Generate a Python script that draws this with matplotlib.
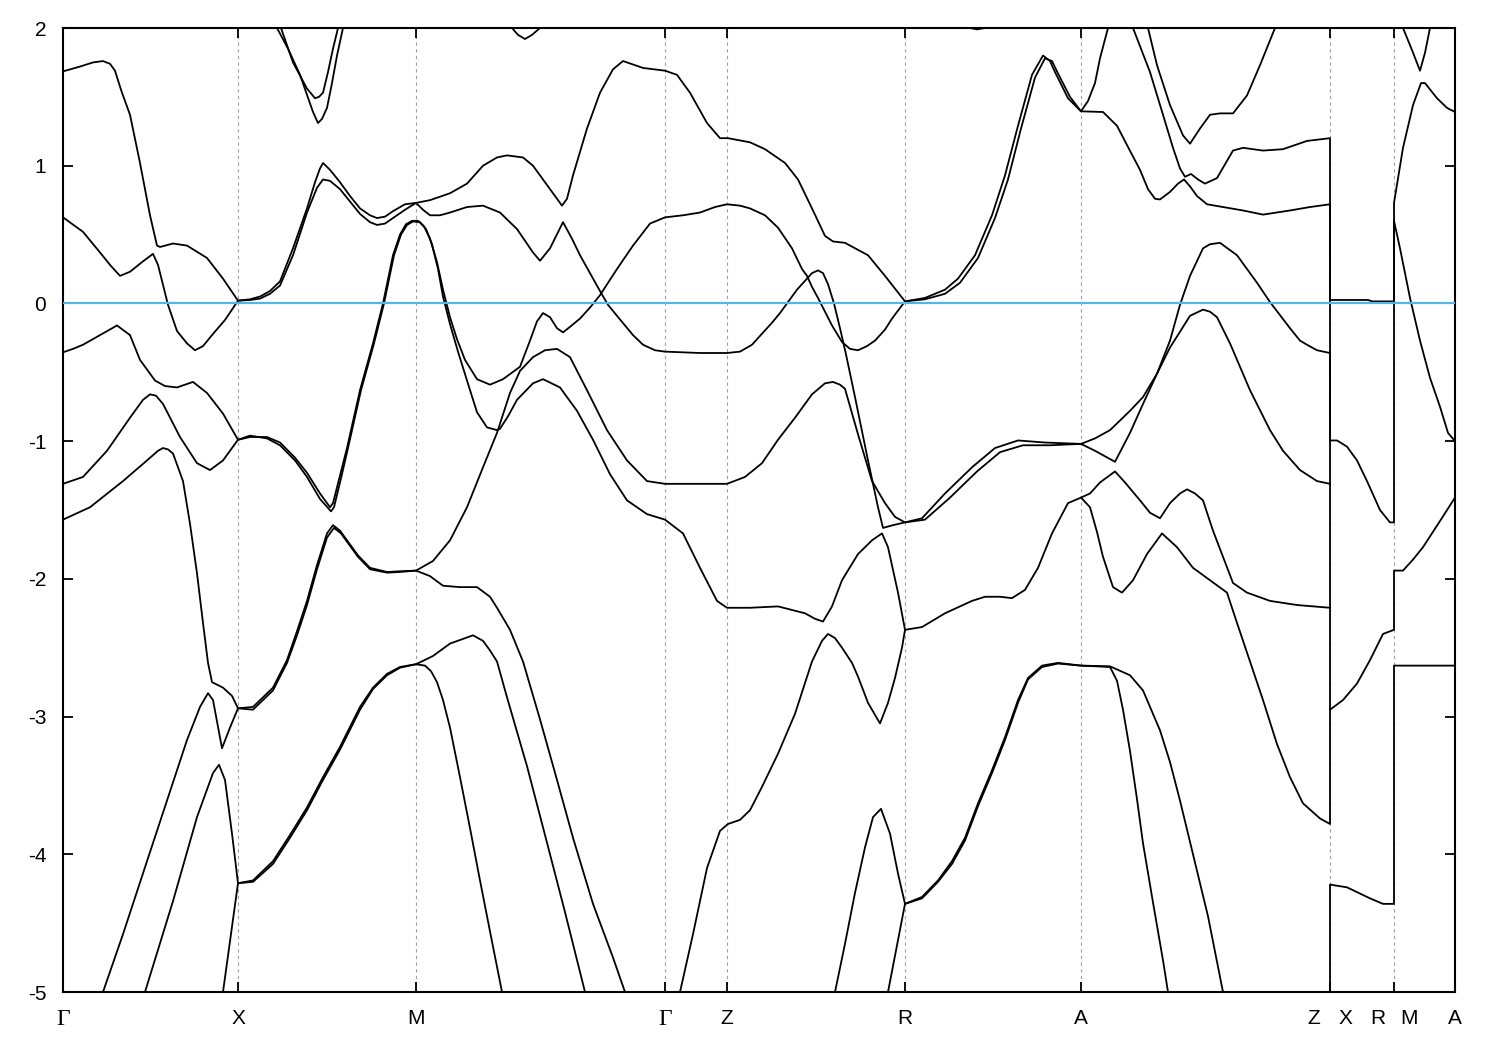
import matplotlib
matplotlib.use("Agg")
import matplotlib.pyplot as plt
from matplotlib.transforms import blended_transform_factory

plt.rcParams['font.family'] = ['Liberation Sans', 'DejaVu Sans']
plt.rcParams['axes.unicode_minus'] = False

# high-symmetry points along the k-path (path length units)
kpoint_pos = [0.00, 1.75, 3.53, 6.02, 6.64, 8.42, 10.18, 12.67, 13.31, 13.92]
kpoint_lab = ['Γ', 'X', 'M', 'Γ', 'Z', 'R', 'A', 'Z|X', 'R|M', 'A']
yticks = [-5, -4, -3, -2, -1, 0, 1, 2]

# bands: (k, E) pairs
band_1 = [(0.00, 1.685), (0.17, 1.72), (0.30, 1.75), (0.40, 1.76), (0.47, 1.74), (0.52, 1.69), (0.55, 1.62),
          (0.59, 1.53), (0.67, 1.37),
          (0.77, 1.02), (0.87, 0.64), (0.94, 0.42), (0.97, 0.41), (1.10, 0.435), (1.24, 0.42), (1.44, 0.33),
          (1.60, 0.18), (1.75, 0.02),
          (1.87, 0.03), (1.97, 0.05), (2.07, 0.09), (2.17, 0.16), (2.30, 0.40), (2.44, 0.69), (2.52, 0.88),
          (2.57, 0.98), (2.60, 1.02), (2.67, 0.97), (2.77, 0.88), (2.87, 0.78), (2.97, 0.69), (3.07, 0.64),
          (3.14, 0.62), (3.22, 0.63), (3.30, 0.67), (3.42, 0.72), (3.53, 0.73),
          (3.67, 0.75), (3.87, 0.80), (4.04, 0.87), (4.20, 1.00), (4.34, 1.06), (4.44, 1.075), (4.60, 1.06),
          (4.70, 1.00), (4.80, 0.90), (4.90, 0.80), (4.99, 0.71), (5.04, 0.76), (5.10, 0.93), (5.17, 1.10),
          (5.24, 1.27), (5.37, 1.53), (5.50, 1.70), (5.60, 1.76), (5.80, 1.71), (6.02, 1.69),
          (6.14, 1.66), (6.27, 1.53), (6.44, 1.31), (6.57, 1.20), (6.65, 1.20), (6.87, 1.17), (7.02, 1.12),
          (7.22, 1.02), (7.35, 0.90), (7.49, 0.69), (7.62, 0.49), (7.70, 0.45), (7.82, 0.44), (8.05, 0.35),
          (8.22, 0.20), (8.42, 0.015),
          (8.62, 0.04), (8.82, 0.10), (8.95, 0.18), (9.12, 0.35), (9.29, 0.64), (9.42, 0.93), (9.55, 1.29),
          (9.69, 1.66), (9.80, 1.80), (9.87, 1.76), (9.92, 1.68), (10.05, 1.49), (10.18, 1.395),
          (10.25, 1.47), (10.32, 1.60), (10.37, 1.78), (10.45, 2.00), (10.48, 2.10)]

band_2 = [(0.00, 0.625), (0.20, 0.52), (0.37, 0.37), (0.47, 0.28), (0.57, 0.20), (0.67, 0.23), (0.79, 0.30),
          (0.90, 0.36), (0.95, 0.28), (1.05, -0.01), (1.14, -0.20), (1.24, -0.29), (1.32, -0.34), (1.40, -0.31),
          (1.49, -0.23), (1.62, -0.12), (1.75, 0.02),
          (1.87, 0.025), (1.97, 0.035), (2.07, 0.07), (2.17, 0.13), (2.30, 0.35), (2.44, 0.66), (2.54, 0.84),
          (2.60, 0.90), (2.67, 0.89), (2.77, 0.83), (2.87, 0.74), (2.97, 0.65), (3.07, 0.59), (3.14, 0.57),
          (3.22, 0.58), (3.30, 0.62), (3.42, 0.68), (3.53, 0.73),
          (3.60, 0.68), (3.67, 0.64), (3.77, 0.64), (3.87, 0.66), (4.04, 0.70), (4.20, 0.71), (4.37, 0.66),
          (4.54, 0.54), (4.70, 0.37), (4.77, 0.31), (4.87, 0.40), (5.00, 0.59), (5.09, 0.47), (5.17, 0.35),
          (5.27, 0.22), (5.37, 0.09), (5.45, -0.01), (5.54, -0.09), (5.70, -0.23), (5.80, -0.30), (5.92, -0.34),
          (6.02, -0.35),
          (6.37, -0.36), (6.64, -0.36), (6.77, -0.35), (6.89, -0.30), (6.99, -0.22), (7.09, -0.14),
          (7.17, -0.07), (7.25, 0.01), (7.34, 0.10), (7.44, 0.18), (7.49, 0.22), (7.55, 0.24), (7.60, 0.22),
          (7.65, 0.14), (7.71, 0.00), (7.77, -0.18), (7.83, -0.37), (7.92, -0.68), (8.05, -1.14), (8.15, -1.48),
          (8.20, -1.63), (8.30, -1.61), (8.42, -1.59),
          (8.59, -1.56), (8.82, -1.38), (9.09, -1.19), (9.32, -1.05), (9.55, -0.995), (9.82, -1.01),
          (10.18, -1.02),
          (10.32, -1.07), (10.52, -1.15), (10.67, -0.94), (10.80, -0.73), (10.94, -0.51), (11.07, -0.27),
          (11.17, -0.01), (11.27, 0.20), (11.40, 0.40), (11.47, 0.43), (11.57, 0.44), (11.74, 0.35),
          (11.94, 0.15), (12.07, 0.01), (12.27, -0.18), (12.37, -0.27), (12.44, -0.30), (12.54, -0.34),
          (12.67, -0.36), (12.67, -1.31)]

band_3 = [(0.00, -0.355), (0.10, -0.33), (0.20, -0.30), (0.37, -0.23), (0.54, -0.16), (0.67, -0.23),
          (0.77, -0.41), (0.92, -0.56), (1.02, -0.60), (1.14, -0.61), (1.30, -0.57), (1.44, -0.65),
          (1.60, -0.80), (1.75, -0.99),
          (1.87, -0.97), (2.04, -0.97), (2.17, -1.01), (2.32, -1.12), (2.44, -1.23), (2.57, -1.38),
          (2.67, -1.48), (2.70, -1.45), (2.77, -1.25), (2.84, -1.05), (2.97, -0.63), (3.10, -0.29),
          (3.20, 0.00), (3.30, 0.35), (3.37, 0.50), (3.43, 0.575), (3.49, 0.60), (3.55, 0.60),
          (3.61, 0.56), (3.67, 0.47), (3.74, 0.30), (3.80, 0.10), (3.87, -0.10), (3.94, -0.26), (4.02, -0.41),
          (4.14, -0.55), (4.27, -0.59), (4.40, -0.55), (4.57, -0.46), (4.67, -0.27), (4.74, -0.13),
          (4.80, -0.07), (4.87, -0.10), (4.94, -0.18), (5.00, -0.21), (5.07, -0.17), (5.17, -0.11),
          (5.27, -0.03), (5.37, 0.06), (5.45, 0.15), (5.54, 0.25), (5.70, 0.42), (5.87, 0.58), (6.02, 0.625),
          (6.20, 0.64), (6.37, 0.66), (6.52, 0.70), (6.64, 0.72), (6.77, 0.71), (6.87, 0.69), (7.02, 0.64),
          (7.15, 0.55), (7.29, 0.40), (7.39, 0.25), (7.44, 0.20), (7.49, 0.12), (7.55, 0.04), (7.62, -0.06),
          (7.69, -0.16), (7.79, -0.28), (7.87, -0.33), (7.95, -0.34), (8.04, -0.31), (8.12, -0.27),
          (8.22, -0.19), (8.29, -0.11), (8.42, 0.015),
          (8.62, 0.03), (8.82, 0.07), (8.97, 0.15), (9.15, 0.33), (9.32, 0.62), (9.45, 0.90), (9.58, 1.27),
          (9.72, 1.64), (9.82, 1.78), (9.89, 1.76), (9.95, 1.67), (10.07, 1.50), (10.18, 1.395),
          (10.40, 1.39), (10.54, 1.29), (10.64, 1.15), (10.77, 0.97), (10.85, 0.83), (10.92, 0.76),
          (10.97, 0.755), (11.07, 0.81), (11.15, 0.87), (11.21, 0.90), (11.27, 0.85), (11.34, 0.78),
          (11.44, 0.72), (11.60, 0.70), (11.80, 0.675), (12.00, 0.645), (12.27, 0.675), (12.47, 0.70),
          (12.67, 0.72),
          (12.67, -0.995), (12.74, -0.995), (12.84, -1.04), (12.94, -1.14), (13.04, -1.29), (13.17, -1.50),
          (13.27, -1.59), (13.31, -1.59),
          (13.31, 0.60), (13.37, 0.40), (13.47, 0.04), (13.57, -0.27), (13.67, -0.54), (13.77, -0.75),
          (13.85, -0.94), (13.92, -1.00)]

band_4 = [(0.00, -1.31), (0.20, -1.26), (0.44, -1.07), (0.67, -0.83), (0.80, -0.70), (0.87, -0.66),
          (0.93, -0.67), (1.00, -0.73),
          (1.17, -0.97), (1.34, -1.16), (1.47, -1.21), (1.60, -1.14), (1.75, -0.99),
          (1.87, -0.96), (2.04, -0.98), (2.17, -1.03), (2.32, -1.14), (2.44, -1.26), (2.57, -1.42),
          (2.68, -1.51), (2.71, -1.48), (2.78, -1.27), (2.85, -1.05), (2.98, -0.63), (3.11, -0.29),
          (3.21, 0.00), (3.31, 0.35), (3.38, 0.50), (3.44, 0.57), (3.50, 0.595), (3.57, 0.59),
          (3.63, 0.54), (3.69, 0.43), (3.75, 0.25), (3.80, 0.05), (3.87, -0.15), (3.95, -0.35), (4.04, -0.56),
          (4.14, -0.79), (4.24, -0.90), (4.34, -0.92), (4.37, -0.91), (4.45, -0.82), (4.54, -0.70),
          (4.70, -0.58), (4.80, -0.55), (4.97, -0.61), (5.14, -0.78), (5.30, -0.99), (5.47, -1.24),
          (5.64, -1.43), (5.84, -1.53), (6.02, -1.57),
          (6.20, -1.67), (6.37, -1.92), (6.54, -2.16), (6.64, -2.21), (6.87, -2.21), (7.15, -2.20),
          (7.42, -2.25), (7.52, -2.29), (7.60, -2.31), (7.69, -2.20), (7.79, -2.01), (7.95, -1.82),
          (8.09, -1.72), (8.19, -1.67), (8.25, -1.77), (8.35, -2.10), (8.42, -2.37),
          (8.59, -2.35), (8.82, -2.25), (9.09, -2.16), (9.22, -2.13), (9.37, -2.13), (9.49, -2.14),
          (9.62, -2.08), (9.75, -1.92), (9.89, -1.67), (10.05, -1.45), (10.18, -1.41),
          (10.27, -1.38), (10.37, -1.30), (10.52, -1.22), (10.62, -1.30), (10.77, -1.43), (10.87, -1.52),
          (10.97, -1.56), (11.07, -1.45), (11.17, -1.38), (11.24, -1.35), (11.32, -1.38), (11.40, -1.43),
          (11.50, -1.65), (11.60, -1.84), (11.70, -2.03), (11.84, -2.10), (12.07, -2.16), (12.34, -2.19),
          (12.67, -2.21)]

band_5 = [(0.00, -1.57), (0.27, -1.48), (0.60, -1.29), (0.84, -1.14), (0.95, -1.07), (1.00, -1.05),
          (1.05, -1.06), (1.10, -1.09),
          (1.20, -1.29), (1.27, -1.60), (1.34, -1.96), (1.40, -2.32), (1.45, -2.61), (1.49, -2.75),
          (1.60, -2.79), (1.69, -2.85), (1.75, -2.94),
          (1.90, -2.93), (2.10, -2.79), (2.24, -2.59), (2.34, -2.38), (2.44, -2.16), (2.54, -1.90),
          (2.64, -1.67), (2.70, -1.61), (2.77, -1.65), (2.84, -1.72), (2.95, -1.83), (3.07, -1.92),
          (3.24, -1.95), (3.37, -1.945), (3.53, -1.94),
          (3.70, -1.87), (3.87, -1.72), (4.04, -1.48), (4.20, -1.19), (4.34, -0.94), (4.47, -0.65),
          (4.57, -0.49), (4.70, -0.39), (4.82, -0.34), (4.94, -0.33), (5.07, -0.39), (5.24, -0.63),
          (5.44, -0.92), (5.64, -1.14), (5.84, -1.29), (6.02, -1.31),
          (6.37, -1.31), (6.64, -1.31), (6.82, -1.26), (6.99, -1.16), (7.15, -0.99), (7.32, -0.83),
          (7.49, -0.66), (7.62, -0.58), (7.70, -0.57), (7.77, -0.59), (7.82, -0.62), (7.95, -0.95),
          (8.09, -1.29), (8.22, -1.45), (8.32, -1.55), (8.42, -1.59),
          (8.62, -1.57), (8.87, -1.41), (9.14, -1.22), (9.37, -1.08), (9.60, -1.03), (9.87, -1.03),
          (10.18, -1.02),
          (10.32, -0.98), (10.47, -0.92), (10.67, -0.78), (10.80, -0.68), (10.94, -0.51), (11.07, -0.32),
          (11.14, -0.24), (11.27, -0.09), (11.40, -0.045), (11.47, -0.06), (11.54, -0.10), (11.67, -0.29),
          (11.87, -0.63), (12.07, -0.92), (12.20, -1.07), (12.37, -1.21), (12.54, -1.29), (12.67, -1.31),
          (12.67, -2.95), (12.80, -2.88), (12.94, -2.76), (13.07, -2.59), (13.20, -2.40), (13.31, -2.37),
          (13.31, -1.94), (13.40, -1.94), (13.50, -1.86), (13.60, -1.77), (13.77, -1.58), (13.92, -1.41)]

band_6 = [(0.33, -5.15), (0.40, -5.00), (0.60, -4.58), (0.84, -4.05), (1.04, -3.61), (1.24, -3.17),
          (1.37, -2.93), (1.45, -2.83), (1.50, -2.88), (1.59, -3.23), (1.67, -3.08), (1.75, -2.94),
          (1.90, -2.95), (2.10, -2.81), (2.24, -2.61), (2.34, -2.41), (2.44, -2.19), (2.54, -1.93),
          (2.64, -1.70), (2.71, -1.63), (2.78, -1.67), (2.85, -1.74), (2.95, -1.84), (3.07, -1.93),
          (3.24, -1.955), (3.37, -1.95), (3.53, -1.94),
          (3.67, -1.98), (3.80, -2.05), (3.97, -2.06), (4.14, -2.06), (4.27, -2.13), (4.34, -2.21),
          (4.47, -2.37), (4.60, -2.60), (4.77, -3.02), (4.94, -3.46), (5.10, -3.88), (5.30, -4.36),
          (5.50, -4.75), (5.62, -5.00), (5.67, -5.10)]

band_7 = [(0.76, -5.14), (0.82, -5.00), (1.10, -4.34), (1.34, -3.73), (1.50, -3.41), (1.56, -3.35),
          (1.62, -3.46), (1.69, -3.85), (1.75, -4.21),
          (1.90, -4.19), (2.10, -4.05), (2.27, -3.86), (2.44, -3.66), (2.60, -3.44), (2.77, -3.22),
          (2.97, -2.93), (3.10, -2.79), (3.24, -2.69), (3.37, -2.64), (3.53, -2.62),
          (3.70, -2.56), (3.87, -2.47), (4.10, -2.41), (4.20, -2.45), (4.27, -2.52), (4.34, -2.60),
          (4.44, -2.86), (4.64, -3.36), (4.82, -3.86), (5.02, -4.42), (5.22, -5.00), (5.25, -5.10)]

band_8 = [(1.57, -5.16), (1.60, -5.00), (1.75, -4.21),
          (1.90, -4.20), (2.10, -4.07), (2.27, -3.88), (2.44, -3.68), (2.60, -3.46), (2.77, -3.24),
          (2.97, -2.95), (3.10, -2.80), (3.24, -2.70), (3.37, -2.645), (3.53, -2.62),
          (3.62, -2.63), (3.68, -2.67), (3.74, -2.75), (3.80, -2.88), (3.87, -3.08), (3.97, -3.44),
          (4.07, -3.81), (4.17, -4.19), (4.27, -4.56), (4.39, -5.00), (4.41, -5.10)]

band_9 = [(6.15, -5.10), (6.17, -5.00), (6.30, -4.58), (6.44, -4.10), (6.57, -3.83), (6.65, -3.78),
          (6.77, -3.75), (6.87, -3.68), (6.99, -3.51), (7.15, -3.27), (7.32, -2.98), (7.49, -2.60),
          (7.59, -2.45), (7.65, -2.40), (7.72, -2.43), (7.79, -2.50), (7.89, -2.61), (7.95, -2.71),
          (8.05, -2.90), (8.17, -3.05), (8.25, -2.90), (8.32, -2.72), (8.39, -2.50), (8.42, -2.37)]

band_10 = [(7.70, -5.10), (7.72, -5.00), (7.82, -4.65), (7.92, -4.28), (8.02, -3.95), (8.10, -3.73),
           (8.18, -3.67), (8.27, -3.85), (8.35, -4.14), (8.42, -4.36),
           (8.59, -4.31), (8.75, -4.19), (8.89, -4.05), (9.02, -3.88), (9.15, -3.63), (9.29, -3.39),
           (9.42, -3.15), (9.55, -2.88), (9.65, -2.72), (9.79, -2.63), (9.95, -2.61), (10.18, -2.63),
           (10.47, -2.64), (10.54, -2.74), (10.60, -2.95), (10.67, -3.25), (10.74, -3.60), (10.80, -3.92),
           (10.90, -4.35), (11.00, -4.77), (11.05, -5.00), (11.07, -5.10)]

band_11 = [(8.23, -5.10), (8.25, -5.00), (8.42, -4.36),
           (8.59, -4.32), (8.75, -4.20), (8.89, -4.07), (9.02, -3.90), (9.15, -3.65), (9.29, -3.41),
           (9.42, -3.17), (9.55, -2.90), (9.65, -2.73), (9.79, -2.64), (9.95, -2.615), (10.18, -2.63),
           (10.47, -2.635), (10.67, -2.70), (10.80, -2.81), (10.97, -3.10), (11.07, -3.33), (11.17, -3.61),
           (11.30, -4.00), (11.45, -4.45), (11.60, -5.00), (11.63, -5.10)]

band_12 = [(10.68, 2.10), (10.70, 2.00), (10.87, 1.68), (11.00, 1.37), (11.10, 1.13), (11.17, 0.98),
           (11.22, 0.92), (11.28, 0.94), (11.35, 0.90), (11.42, 0.87), (11.54, 0.91), (11.62, 1.01),
           (11.70, 1.11), (11.80, 1.13), (12.00, 1.11), (12.20, 1.12), (12.44, 1.18), (12.67, 1.20),
           (12.67, 0.025), (13.05, 0.025), (13.09, 0.015), (13.31, 0.015),
           (13.31, 0.73), (13.40, 1.13), (13.50, 1.44), (13.58, 1.60), (13.62, 1.60), (13.74, 1.49),
           (13.84, 1.42), (13.92, 1.39)]

band_13 = [(10.82, 2.10), (10.85, 2.00), (10.94, 1.73), (11.07, 1.44), (11.20, 1.22), (11.27, 1.16),
           (11.37, 1.27), (11.47, 1.37), (11.57, 1.38), (11.70, 1.38), (11.84, 1.51), (11.97, 1.73),
           (12.12, 2.00), (12.15, 2.10)]

band_14 = [(10.18, -1.41), (10.27, -1.48), (10.34, -1.66), (10.40, -1.84), (10.50, -2.06), (10.59, -2.10),
           (10.70, -2.01), (10.84, -1.82), (10.99, -1.67), (11.14, -1.77), (11.30, -1.92), (11.47, -2.01),
           (11.64, -2.10), (11.74, -2.32), (11.87, -2.60), (12.00, -2.88), (12.14, -3.20), (12.27, -3.44),
           (12.40, -3.63), (12.57, -3.74), (12.67, -3.78), (12.67, -2.95)]

band_15 = [(12.67, -5.10), (12.67, -4.22), (12.84, -4.24), (13.07, -4.32), (13.20, -4.36), (13.31, -4.36),
           (13.31, -2.63), (13.92, -2.63)]

# short pieces near the top of the window
band_16 = [(2.12, 2.05), (2.14, 2.00), (2.25, 1.85), (2.37, 1.66), (2.50, 1.39), (2.55, 1.31), (2.59, 1.34),
           (2.64, 1.42), (2.69, 1.60), (2.74, 1.80), (2.80, 2.00), (2.82, 2.07)]
band_17 = [(2.16, 2.05), (2.18, 2.00), (2.30, 1.75), (2.44, 1.56), (2.52, 1.49), (2.56, 1.50), (2.60, 1.53),
           (2.65, 1.68), (2.70, 1.85), (2.75, 2.00), (2.77, 2.07)]
band_18 = [(4.42, 2.10), (4.49, 2.00), (4.55, 1.95), (4.62, 1.92), (4.69, 1.95), (4.77, 2.00), (4.82, 2.06)]
band_19 = [(8.97, 2.04), (9.07, 2.00), (9.14, 1.99), (9.22, 2.00), (9.32, 2.04)]
band_20 = [(13.38, 2.06), (13.40, 2.00), (13.49, 1.84), (13.57, 1.69), (13.62, 1.82), (13.67, 2.00),
           (13.69, 2.06)]

bands = [band_1, band_2, band_3, band_4, band_5, band_6, band_7, band_8, band_9, band_10,
         band_11, band_12, band_13, band_14, band_15, band_16, band_17, band_18, band_19, band_20]


def plot_bands(outfile):
	fig = plt.figure(figsize=(15, 10.5), dpi=100)
	ax = fig.add_axes([63 / 1500, 1 - 992 / 1050, 1392 / 1500, 964 / 1050])

	# dashed guides at the inner high-symmetry points
	for k in kpoint_pos[1:-1]:
		ax.axvline(k, color='#a0a0a0', lw=0.8, ls=(0, (3, 3)), zorder=1)

	for b in bands:
		k, e = zip(*b)
		ax.plot(k, e, color='black', lw=1.3, zorder=2, solid_joinstyle='round')

	# Fermi level
	ax.axhline(0, color='#56b4e9', lw=1.6, zorder=3)

	ax.set_xlim(kpoint_pos[0], kpoint_pos[-1])
	ax.set_ylim(-5, 2)
	ax.set_yticks(yticks)
	ax.set_yticklabels([str(y) for y in yticks], fontsize=15)
	ax.set_xticks(kpoint_pos)
	ax.set_xticklabels([l if '|' not in l else '' for l in kpoint_lab], fontsize=15)
	for t in ax.get_xticklabels():
		if t.get_text() == 'Γ':
			t.set_family(['Liberation Serif', 'DejaVu Serif'])
			t.set_fontsize(17)
	ax.tick_params(direction='in', length=7, width=1.3, top=True, right=True)
	ax.tick_params(axis='x', pad=12)
	ax.tick_params(axis='y', pad=12)
	for s in ax.spines.values():
		s.set_linewidth(1.5)

	# split labels like "Z|X" drawn either side of their tick
	trans = blended_transform_factory(ax.transData, ax.transAxes)
	for k, lab in zip(kpoint_pos, kpoint_lab):
		if '|' in lab:
			left, right = lab.split('|')
			ax.annotate(left, xy=(k, 0), xycoords=trans, xytext=(-11.5, -12), textcoords='offset points',
						ha='center', va='top', fontsize=15)
			ax.annotate(right, xy=(k, 0), xycoords=trans, xytext=(11, -12), textcoords='offset points',
						ha='center', va='top', fontsize=15)

	fig.savefig(outfile, dpi=100)


if __name__ == "__main__":
	plot_bands('out.png')
